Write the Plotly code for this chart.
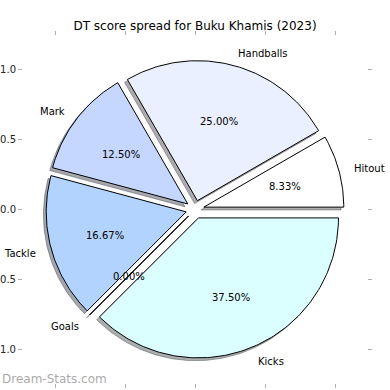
import numpy as np
import plotly.graph_objects as go

# ---- data ----
categories = ["Hitout", "Handballs", "Mark", "Tackle", "Goals", "Kicks"]
values = [2, 6, 3, 4, 0, 9]
colors = ["#FFFFFF", "#EAF0FF", "#C5D7FF", "#B3D3FF", "#B0D0FF", "#DBFFFF"]
explode = [0.065, 0.065, 0.065, 0.065, 0.065, 0.065]
title = "DT score spread for Buku Khamis (2023)"
tick_vals = [-1.0, -0.5, 0.0, 0.5, 1.0]
tick_text = ["\u22121.0", "\u22120.5", "0.0", "0.5", "1.0"]
watermark = "Dream-Stats.com"

FONT = "DejaVu Sans"
radius = 1.0
label_dist = 1.1
pct_dist = 0.6
shadow_off = (-0.02, -0.02)

total = float(sum(values))
wedges = []
start = 0.0
for cat, v, col, ex in zip(categories, values, colors, explode):
    span = 360.0 * v / total
    t1, t2 = start, start + span
    mid = np.deg2rad((t1 + t2) / 2.0)
    ox, oy = ex * radius * np.cos(mid), ex * radius * np.sin(mid)
    n = max(2, int(span) + 2)
    th = np.deg2rad(np.linspace(t1, t2, n))
    xs = np.concatenate([[ox], ox + radius * np.cos(th), [ox]])
    ys = np.concatenate([[oy], oy + radius * np.sin(th), [oy]])
    wedges.append(dict(cat=cat, v=v, col=col, xs=xs, ys=ys, mid=mid, ox=ox, oy=oy))
    start = t2


def shadow_color(hexcol):
    h = hexcol.lstrip("#")
    r, g, b = (int(h[i:i + 2], 16) for i in (0, 2, 4))
    return f"rgba({r*0.3:.0f},{g*0.3:.0f},{b*0.3:.0f},0.45)"


fig = go.Figure()
# shadows (beneath every wedge)
for w in wedges:
    sc = shadow_color(w["col"])
    fig.add_trace(go.Scatter(
        x=w["xs"] + shadow_off[0], y=w["ys"] + shadow_off[1], mode="lines",
        fill="toself", fillcolor=sc, line=dict(color=sc, width=1),
        hoverinfo="skip", showlegend=False))
# wedges
for w in wedges:
    fig.add_trace(go.Scatter(
        x=w["xs"], y=w["ys"], mode="lines", fill="toself",
        fillcolor=w["col"], line=dict(color="black", width=1),
        name=w["cat"], showlegend=False))

annotations = []
for w in wedges:
    lx = w["ox"] + label_dist * radius * np.cos(w["mid"])
    ly = w["oy"] + label_dist * radius * np.sin(w["mid"])
    annotations.append(dict(
        x=lx, y=ly, xref="x", yref="y", text=w["cat"], showarrow=False,
        xanchor="left" if lx > 0 else "right", yanchor="middle", yshift=-1.5,
        font=dict(family=FONT, size=10, color="black"), borderpad=0))
    px = w["ox"] + pct_dist * radius * np.cos(w["mid"])
    py = w["oy"] + pct_dist * radius * np.sin(w["mid"])
    annotations.append(dict(
        x=px, y=py, xref="x", yref="y", text=f"{100*w['v']/total:.2f}%",
        showarrow=False, xanchor="center", yanchor="middle", yshift=-1.5,
        font=dict(family=FONT, size=10, color="black"), borderpad=0))

annotations.append(dict(
    x=0, y=0.012, xref="paper", yref="paper", xshift=-23, text=watermark,
    showarrow=False, xanchor="left", yanchor="middle",
    font=dict(family=FONT, size=12, color="rgba(130,130,130,0.7)")))

W, H = 390, 390
ml, mr, mt, mb = 23, 23, 36, 7
pxu = 140.0
xr = (W - ml - mr) / (2 * pxu)
yr = (H - mt - mb) / (2 * pxu)

axis_common = dict(
    showgrid=False, zeroline=False, showline=False, ticks="outside",
    ticklen=4, tickwidth=1, tickcolor="#b0b0b0", mirror="ticks",
    tickvals=tick_vals, ticktext=tick_text, automargin=False,
    tickfont=dict(family=FONT, size=10, color="#222222"))

fig.update_layout(
    width=W, height=H, autosize=False,
    margin=dict(l=ml, r=mr, t=mt, b=mb),
    paper_bgcolor="white", plot_bgcolor="white",
    title=dict(text=title, x=0.5, xref="paper", y=1 - 25.5 / H,
               yanchor="middle", xanchor="center",
               font=dict(family=FONT, size=12, color="black")),
    xaxis=dict(range=[-xr, xr], **axis_common),
    yaxis=dict(range=[-yr, yr], **axis_common),
    annotations=annotations,
    showlegend=False,
)

fig.write_html(
    "out.html",
    config={"displayModeBar": False},
    post_script="document.body.style.margin='0';document.body.style.padding='0';",
)
